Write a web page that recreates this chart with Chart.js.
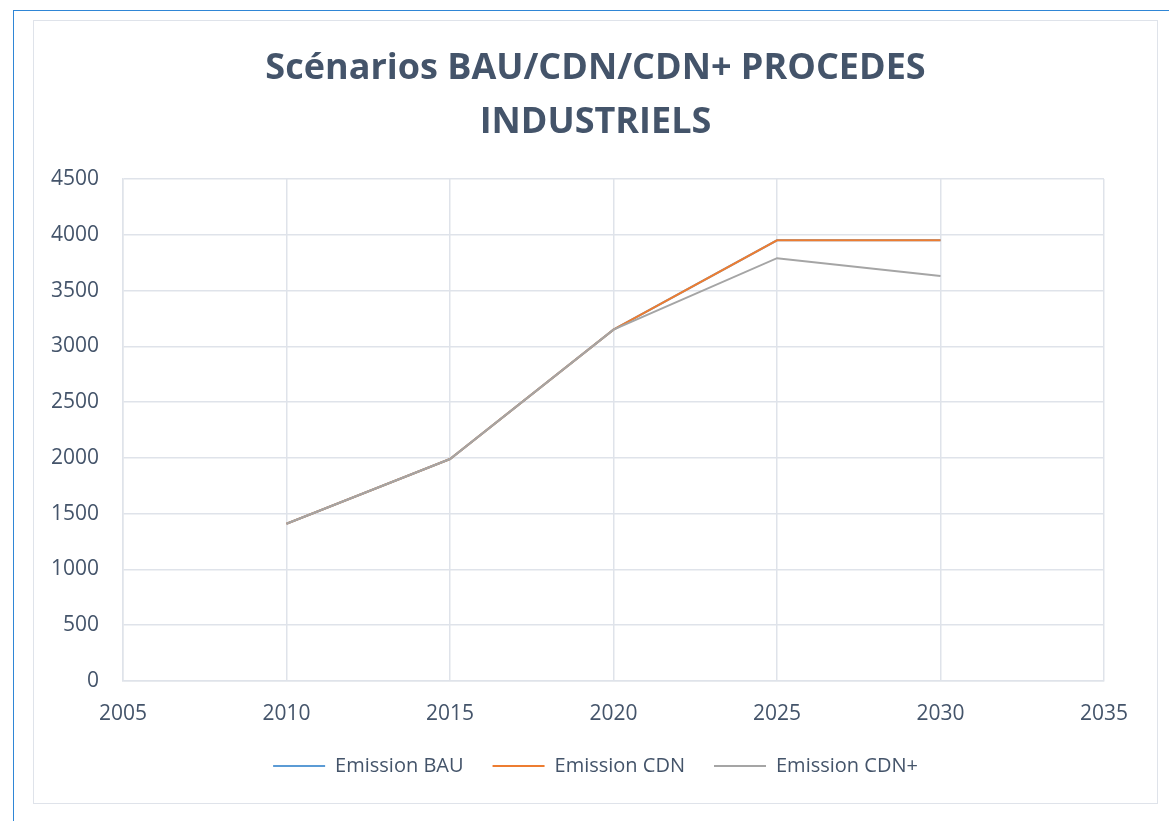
<!DOCTYPE html>
<html>
<head>
<meta charset="utf-8">
<script src="https://cdn.jsdelivr.net/npm/chart.js@4"></script>
<style>
  body { margin: 0; background: #fff; }
  .outer { position: absolute; left: 13px; top: 10px; width: 1200px; height: 900px; border: 1px solid #2f86d6; }
  .box { position: absolute; left: 33px; top: 20px; width: 1123px; height: 782px; border: 1.5px solid #dfe3ea; background: #fff; }
  canvas { display: block; }
</style>
</head>
<body>
<div class="outer"></div>
<div class="box"><canvas id="chart" width="1123" height="782"></canvas></div>
<script>
// données
var years = [2010, 2015, 2020, 2025, 2030];
var emissionBAU = [1410, 1990, 3150, 3950, 3950];
var emissionCDN = [1410, 1990, 3150, 3950, 3950];
var emissionCDNplus = [1410, 1990, 3150, 3790, 3630];

function pts(vals) {
  return years.map(function (y, i) { return { x: y, y: vals[i] }; });
}

var textColor = '#44546a';
var gridColor = '#dfe3ea';

function serie(label, vals, color, order) {
  return {
    label: label, data: pts(vals), order: order,
    borderColor: color, backgroundColor: color,
    pointBorderColor: color, pointBackgroundColor: color, pointBorderWidth: 2
  };
}

var ctx = document.getElementById('chart').getContext('2d');
var myChart = new Chart(ctx, {
  type: 'line',
  data: {
    datasets: [
      serie('Emission BAU', emissionBAU, '#5b9bd5', 3),
      serie('Emission CDN', emissionCDN, '#ed7d31', 2),
      serie('Emission CDN+', emissionCDNplus, '#a5a5a5', 1)
    ]
  },
  options: {
    responsive: false,
    animation: false,
    elements: {
      line: { borderWidth: 2, tension: 0 },
      point: { radius: 0 }
    },
    layout: { padding: { left: 9, right: 9, top: 0, bottom: 17 } },
    plugins: {
      title: {
        display: true,
        text: ['Scénarios BAU/CDN/CDN+ PROCEDES', 'INDUSTRIELS'],
        color: textColor,
        font: { family: 'Open Sans', size: 36, weight: 'bold', lineHeight: 1.5 },
        padding: { top: 21, bottom: 29 }
      },
      legend: {
        position: 'bottom',
        labels: {
          color: textColor,
          font: { family: 'Open Sans', size: 20 },
          usePointStyle: true,
          pointStyle: 'line',
          pointStyleWidth: 52,
          padding: 29,
          sort: function (a, b) { return a.datasetIndex - b.datasetIndex; }
        }
      },
      tooltip: { enabled: false }
    },
    scales: {
      x: {
        type: 'linear',
        min: 2005,
        max: 2035,
        ticks: { stepSize: 5, color: textColor, font: { family: 'Open Sans', size: 21 }, padding: 20,
          callback: function (v) { return String(v); } },
        grid: { color: gridColor, lineWidth: 1.5, drawTicks: false },
        border: { color: gridColor, width: 1.5 },
        afterFit: function (scale) { scale.height = 46; }
      },
      y: {
        min: 0,
        max: 4500,
        ticks: { stepSize: 500, color: textColor, font: { family: 'Open Sans', size: 21 }, padding: 24,
          callback: function (v) { return String(v); } },
        grid: { color: gridColor, lineWidth: 1.5, drawTicks: false },
        border: { color: gridColor, width: 1.5 },
        afterFit: function (scale) { scale.width = 80; }
      },
      // axe vide à droite pour garder le titre centré
      y2: {
        position: 'right',
        ticks: { display: false },
        grid: { display: false },
        border: { display: false },
        afterFit: function (scale) { scale.width = 44; }
      }
    }
  }
});
</script>
</body>
</html>
